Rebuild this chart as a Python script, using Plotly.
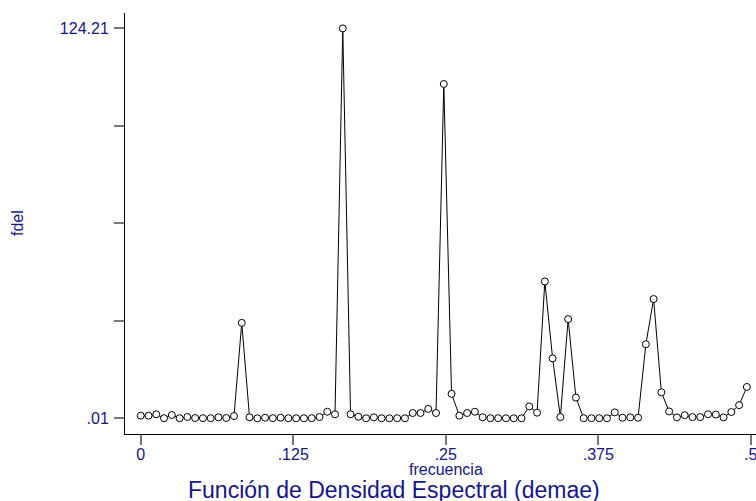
import plotly.graph_objects as go

# Periodogram ordinates (fdel) at Fourier frequencies k/157, k = 0..78
n_obs = 157
fdel = [
    0.84, 0.84, 1.28, 0.05, 1.06, 0.05, 0.42, 0.10, 0.05, 0.05,
    0.33, 0.10, 0.74, 30.4, 0.33, 0.02, 0.20, 0.05, 0.20, 0.05,
    0.03, 0.03, 0.05, 0.42, 2.10, 1.28, 124.21, 1.28, 0.50, 0.02,
    0.33, 0.02, 0.02, 0.05, 0.02, 1.70, 1.70, 3.00, 1.70, 106.5,
    7.80, 0.84, 1.70, 2.10, 0.33, 0.05, 0.05, 0.02, 0.02, 0.02,
    3.80, 1.80, 43.6, 19.1, 0.40, 31.6, 6.60, 0.05, 0.05, 0.05,
    0.02, 1.90, 0.20, 0.30, 0.20, 23.6, 38.0, 8.30, 2.20, 0.30,
    1.00, 0.40, 0.40, 1.30, 1.20, 0.30, 2.00, 4.20, 10.0,
]
frecuencia = [k / n_obs for k in range(len(fdel))]

x_tickvals = [0, 0.125, 0.25, 0.375, 0.5]
x_ticktext = ["0", ".125", ".25", ".375", ".5"]
y_min, y_max = 0.01, 124.21
y_tickvals = [y_min + i * (y_max - y_min) / 4 for i in range(5)]
y_ticktext = [".01", "", "", "", "124.21"]

NAVY = "#16168a"
FONT = "Liberation Sans, Arial, sans-serif"

fig = go.Figure()
fig.add_trace(go.Scatter(
    x=frecuencia, y=fdel, mode="lines+markers",
    line=dict(color="black", width=1),
    marker=dict(symbol="circle", size=7, color="white",
                line=dict(color="black", width=1)),
    showlegend=False, hoverinfo="x+y",
))

fig.update_layout(
    width=756, height=501,
    margin=dict(l=125, r=0, t=13, b=67, autoexpand=False),
    paper_bgcolor="white", plot_bgcolor="white",
    font=dict(family=FONT, size=16, color=NAVY),
    xaxis=dict(
        range=[-0.0129, 0.5043], tickvals=x_tickvals, ticktext=x_ticktext,
        ticks="outside", ticklen=10, tickwidth=1.5, tickcolor="#777777",
        showline=True, linecolor="black", linewidth=1,
        showgrid=False, zeroline=False, automargin=False,
        tickfont=dict(family=FONT, size=16, color=NAVY),
        ticklabelstandoff=-4, ticklabeloverflow="allow",
    ),
    yaxis=dict(
        range=[-4.99, 129.1], tickvals=y_tickvals, ticktext=y_ticktext,
        ticks="outside", ticklen=10, tickwidth=1.5, tickcolor="#777777",
        showline=True, linecolor="black", linewidth=1,
        showgrid=False, zeroline=False, automargin=False,
        tickfont=dict(family=FONT, size=16, color=NAVY),
        ticklabelstandoff=2,
    ),
    annotations=[
        dict(text="fdel", xref="paper", yref="paper",
             x=(17.5 - 125) / 631, y=0.5, xanchor="center", yanchor="middle",
             textangle=-90, showarrow=False,
             font=dict(family=FONT, size=16, color=NAVY)),
        dict(text="frecuencia", xref="x", yref="paper",
             x=0.25, y=(434 - 469.5) / 421, xanchor="center", yanchor="middle",
             showarrow=False,
             font=dict(family=FONT, size=16, color=NAVY)),
        dict(text="Función de Densidad Espectral (demae)", xref="paper", yref="paper",
             x=(394 - 125) / 631, y=(434 - 490) / 421, xanchor="center", yanchor="middle",
             showarrow=False,
             font=dict(family=FONT, size=23, color=NAVY)),
    ],
)

fig.write_html("out.html", config={"displayModeBar": False},
               post_script="document.body.style.margin='0';")
